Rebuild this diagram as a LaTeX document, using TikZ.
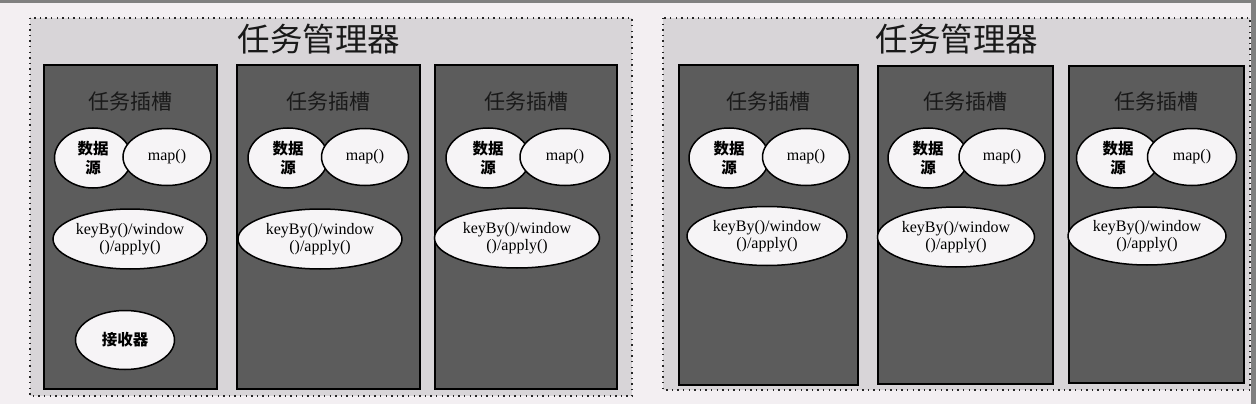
\documentclass[tikz,border=0pt]{standalone}
\usepackage{fontspec}
\setmainfont{Liberation Serif}
\newfontfamily\cjk{Noto Sans CJK SC}
\usetikzlibrary{shapes.geometric}
\definecolor{bgcol}{HTML}{F3EFF2}
\definecolor{panelcol}{HTML}{D8D5D8}
\definecolor{slotcol}{HTML}{5C5C5C}
\definecolor{ovalcol}{HTML}{F6F4F6}
\definecolor{edgecol}{HTML}{808080}
\tikzset{
  panel/.style={draw=black!85, fill=panelcol, line width=1.4pt, dash pattern=on 1.4pt off 4.2pt},
  slotbox/.style={draw=black, fill=slotcol, line width=1.3pt},
  mgrtitle/.style={font=\cjk\fontsize{32.5}{34}\selectfont, text=black!90, inner sep=0pt},
  slottitle/.style={font=\cjk\fontsize{21}{23}\selectfont, text=black!90, inner sep=0pt},
  oval/.style={ellipse, draw=black, fill=ovalcol, line width=1.5pt, inner sep=0pt, align=center},
  cjkoval/.style={oval, font=\cjk\bfseries\fontsize{15.5}{19}\selectfont},
  txtoval/.style={oval, font=\fontsize{16}{17.5}\selectfont}
}
\begin{document}
\begin{tikzpicture}[x=1pt,y=-1pt]
\useasboundingbox (0,0) rectangle (1256,404);
\fill[bgcol] (0,0) rectangle (1256,404);
\fill[edgecol] (0,0) rectangle (1256,3);
\fill[edgecol] (1251,0) rectangle (1256,404);
% panels
\path[panel] (30,18) rectangle (632,396);
\path[panel] (663,18) rectangle (1250,390);
\node[mgrtitle] (t1) at (319,39) {任务管理器};
\node[mgrtitle] (t2) at (957,39) {任务管理器};
% slots
\path[slotbox] (44,65) rectangle (217,389);
\path[slotbox] (237,65) rectangle (420,389);
\path[slotbox] (435,65) rectangle (617,389);
\path[slotbox] (679,65) rectangle (858,385);
\path[slotbox] (878,66) rectangle (1053,384);
\path[slotbox] (1069,66) rectangle (1244,383);
\node[slottitle] (s1) at (130.5,102) {任务插槽};
\node[slottitle] (s2) at (328.5,102) {任务插槽};
\node[slottitle] (s3) at (526,102) {任务插槽};
\node[slottitle] (s4) at (768.5,102) {任务插槽};
\node[slottitle] (s5) at (965.5,102) {任务插槽};
\node[slottitle] (s6) at (1156.5,102) {任务插槽};
% slot 1
\node[cjkoval, minimum width=77pt, minimum height=60pt] (d1) at (93,158) {数据\\源};
\node[txtoval, minimum width=88pt, minimum height=57pt] (m1) at (167,157) {map()};
\node[txtoval, minimum width=154pt, minimum height=60pt] (k1) at (130,239) {keyBy()/window\\()/apply()};
\node[cjkoval, minimum width=99pt, minimum height=59pt] (r1) at (125,340) {接收器};
% slot 2
\node[cjkoval, minimum width=80pt, minimum height=60pt] (d2) at (288,158) {数据\\源};
\node[txtoval, minimum width=87pt, minimum height=57pt] (m2) at (365,157) {map()};
\node[txtoval, minimum width=164pt, minimum height=60pt] (k2) at (320,239) {keyBy()/window\\()/apply()};
% slot 3
\node[cjkoval, minimum width=84pt, minimum height=60pt] (d3) at (488,158) {数据\\源};
\node[txtoval, minimum width=90pt, minimum height=57pt] (m3) at (565,157) {map()};
\node[txtoval, minimum width=165pt, minimum height=60pt] (k3) at (517,238) {keyBy()/window\\()/apply()};
% slot 4
\node[cjkoval, minimum width=80pt, minimum height=60pt] (d4) at (729,158) {数据\\源};
\node[txtoval, minimum width=87pt, minimum height=57pt] (m4) at (806,157) {map()};
\node[txtoval, minimum width=160pt, minimum height=59pt] (k4) at (767,236) {keyBy()/window\\()/apply()};
% slot 5
\node[cjkoval, minimum width=80pt, minimum height=60pt] (d5) at (928,158) {数据\\源};
\node[txtoval, minimum width=86pt, minimum height=57pt] (m5) at (1002,157) {map()};
\node[txtoval, minimum width=157pt, minimum height=60pt] (k5) at (956,237) {keyBy()/window\\()/apply()};
% slot 6
\node[cjkoval, minimum width=83pt, minimum height=60pt] (d6) at (1118,158) {数据\\源};
\node[txtoval, minimum width=89pt, minimum height=57pt] (m6) at (1192,157) {map()};
\node[txtoval, minimum width=158pt, minimum height=58pt] (k6) at (1147,236) {keyBy()/window\\()/apply()};
\end{tikzpicture}
\end{document}
